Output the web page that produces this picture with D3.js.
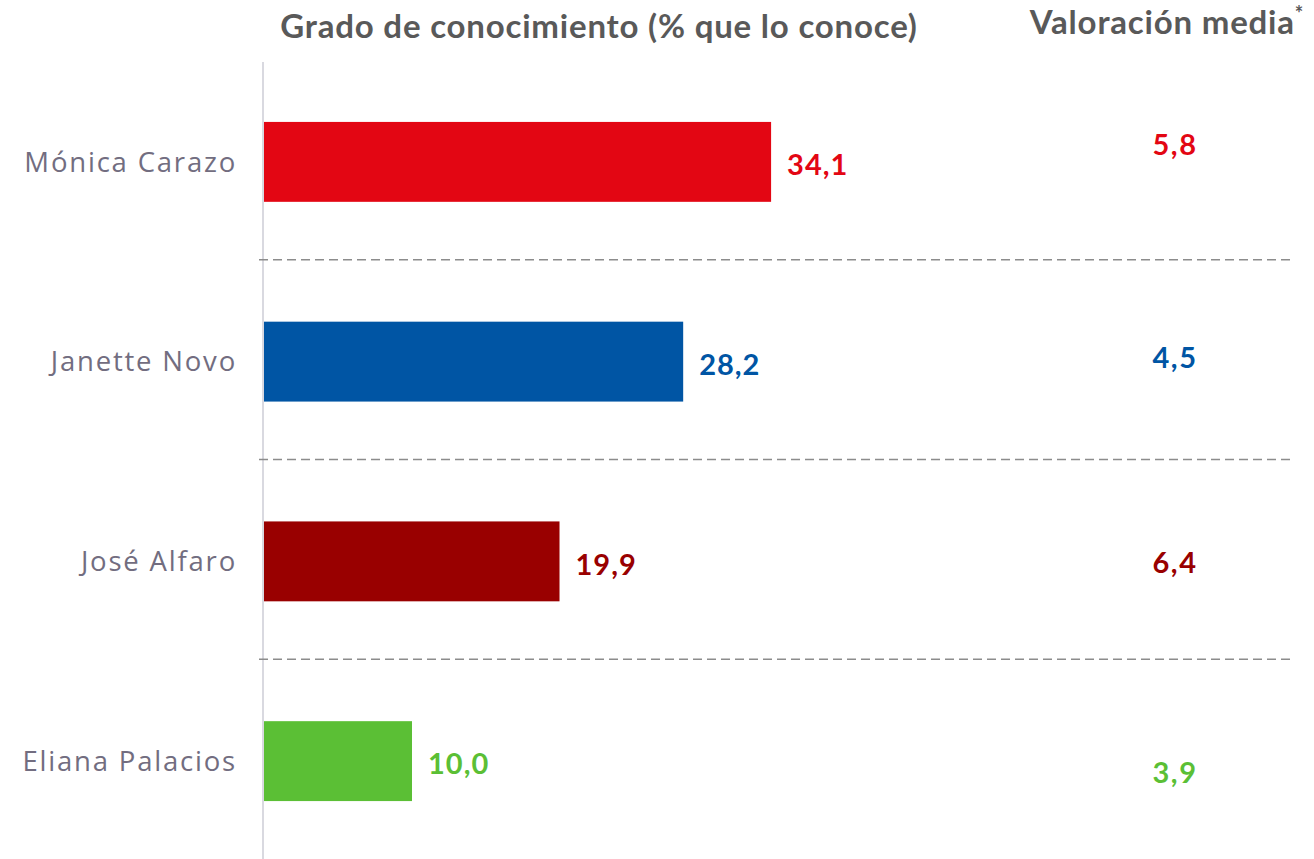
<!DOCTYPE html>
<html>
<head>
<meta charset="utf-8">
<script src="https://cdn.jsdelivr.net/npm/d3@7"></script>
<style>
  html, body { margin: 0; padding: 0; background: #ffffff; }
  svg { display: block; }
</style>
</head>
<body>
<svg id="chart" width="1314" height="859"></svg>
<script>
// Candidates and their figures
const candidates = ["Mónica Carazo", "Janette Novo", "José Alfaro", "Eliana Palacios"];
const conocimiento = [34.1, 28.2, 19.9, 10.0];
const valoracion = [5.8, 4.5, 6.4, 3.9];
const partyColors = ["#e30613", "#0055a4", "#990000", "#5bbf35"];

const titleLeft = "Grado de conocimiento (% que lo conoce)";
const titleRight = "Valoración media";

// small vertical nudges for the rating column
const ratingNudge = [-17, -4, 1, 12];

const fmt = v => d3.format(".1f")(v).replace(".", ",");

const svg = d3.select("#chart");
const W = 1314, H = 859;

const x = d3.scaleLinear().domain([0, 40]).range([263, 263 + 596]);
const y = d3.scaleBand()
  .domain(candidates)
  .range([62, 861])
  .paddingInner(0.6)
  .paddingOuter(0.3);

const labelFont = "'Open Sans', sans-serif";
const boldFont = "Lato, 'Open Sans', sans-serif";

// headings
svg.append("text")
  .attr("x", 599).attr("y", 38)
  .attr("text-anchor", "middle")
  .attr("font-family", boldFont)
  .attr("font-weight", 700)
  .attr("font-size", 33)
  .attr("letter-spacing", 0.8)
  .attr("fill", "#595959")
  .text(titleLeft);

const tr = svg.append("text")
  .attr("x", 1167).attr("y", 34)
  .attr("text-anchor", "middle")
  .attr("font-family", boldFont)
  .attr("font-weight", 700)
  .attr("font-size", 33)
  .attr("letter-spacing", 0.8)
  .attr("fill", "#595959");
tr.append("tspan").text(titleRight);
tr.append("tspan").attr("font-size", 20).attr("dy", -13).text("*");

// vertical baseline
svg.append("line")
  .attr("x1", x(0)).attr("x2", x(0))
  .attr("y1", 62).attr("y2", H)
  .attr("stroke", "#d9d9e0")
  .attr("stroke-width", 2);

// dashed separators between rows
const seps = candidates.slice(0, -1).map((c, i) =>
  (y(c) + y.bandwidth() + y(candidates[i + 1])) / 2 - 2);
svg.selectAll("line.sep").data(seps).join("line")
  .attr("class", "sep")
  .attr("x1", 259).attr("x2", 1292)
  .attr("y1", d => d).attr("y2", d => d)
  .attr("stroke", "#8c8c8c")
  .attr("stroke-width", 1.3)
  .attr("stroke-dasharray", "9,5");

// bars
svg.selectAll("rect.bar").data(candidates).join("rect")
  .attr("class", "bar")
  .attr("x", x(0) + 1)
  .attr("y", d => y(d))
  .attr("width", (d, i) => x(conocimiento[i]) - x(0) - 1)
  .attr("height", y.bandwidth())
  .attr("fill", (d, i) => partyColors[i]);

// candidate names
svg.selectAll("text.name").data(candidates).join("text")
  .attr("class", "name")
  .attr("x", 237)
  .attr("y", d => y(d) + y.bandwidth() / 2)
  .attr("dy", "0.35em")
  .attr("text-anchor", "end")
  .attr("font-family", labelFont)
  .attr("font-weight", 400)
  .attr("font-size", 27.5)
  .attr("letter-spacing", 1.8)
  .attr("fill", "#726d80")
  .text(d => d);

// value labels at bar ends
svg.selectAll("text.val").data(candidates).join("text")
  .attr("class", "val")
  .attr("x", (d, i) => x(conocimiento[i]) + 16)
  .attr("y", d => y(d) + y.bandwidth() / 2 + 3)
  .attr("dy", "0.35em")
  .attr("font-family", boldFont)
  .attr("font-weight", 700)
  .attr("font-size", 29)
  .attr("letter-spacing", 1)
  .attr("fill", (d, i) => partyColors[i])
  .text((d, i) => fmt(conocimiento[i]));

// average rating column
svg.selectAll("text.rating").data(candidates).join("text")
  .attr("class", "rating")
  .attr("x", 1175)
  .attr("y", (d, i) => y(d) + y.bandwidth() / 2 + ratingNudge[i])
  .attr("dy", "0.35em")
  .attr("text-anchor", "middle")
  .attr("font-family", boldFont)
  .attr("font-weight", 700)
  .attr("font-size", 29)
  .attr("letter-spacing", 1.5)
  .attr("fill", (d, i) => partyColors[i])
  .text((d, i) => fmt(valoracion[i]));
</script>
</body>
</html>
